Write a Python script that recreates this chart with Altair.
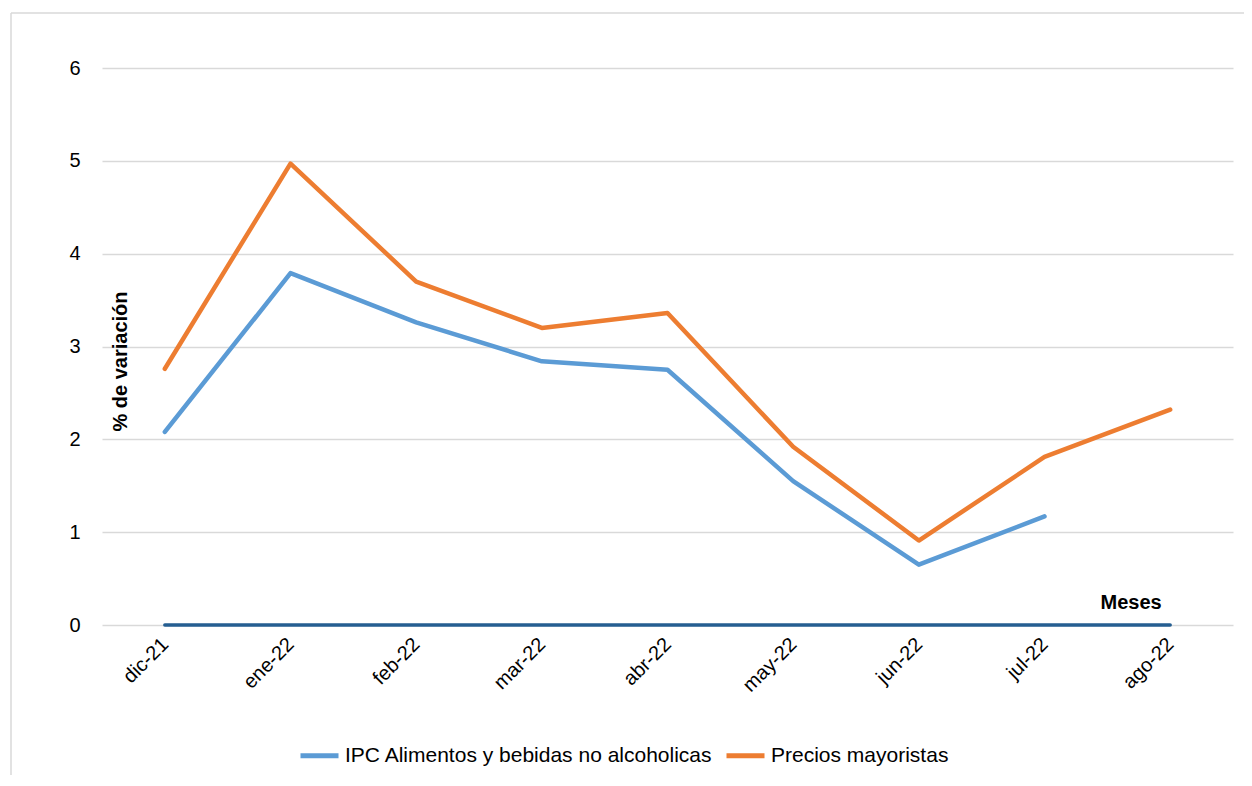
import altair as alt
import pandas as pd

months = ["dic-21", "ene-22", "feb-22", "mar-22", "abr-22", "may-22", "jun-22", "jul-22", "ago-22"]
ipc = [2.08, 3.79, 3.26, 2.84, 2.75, 1.55, 0.65, 1.17, None]
mayoristas = [2.76, 4.97, 3.70, 3.20, 3.36, 1.92, 0.91, 1.81, 2.32]
zero = [0, 0, 0, 0, 0, 0, 0, 0, 0]
series_names = ["IPC Alimentos y bebidas no alcoholicas", "Precios mayoristas"]
series_colors = ["#5B9BD5", "#ED7D31"]

FONT = "Liberation Sans, Arial"

rows = []
for m, v in zip(months, ipc):
    if v is not None:
        rows.append({"mes": m, "valor": v, "serie": series_names[0]})
for m, v in zip(months, mayoristas):
    if v is not None:
        rows.append({"mes": m, "valor": v, "serie": series_names[1]})
df = pd.DataFrame(rows)
df_zero = pd.DataFrame({"mes": months, "valor": zero})

x_enc = alt.X("mes:N", sort=months, scale=alt.Scale(domain=months, paddingOuter=0.5),
              axis=alt.Axis(title=None, labelAngle=-45, labelAlign="right", labelBaseline="middle",
                            labelPadding=16, labelFontSize=20, labelColor="#000000",
                            ticks=False, domain=False, grid=False, labelFont=FONT))
y_scale = alt.Scale(domain=[0, 6], nice=False)
y_axis = alt.Axis(title="%  de variación", titleFontWeight="bold", titleFontSize=20, titleFont=FONT,
                  titleColor="#000000", titleX=28, titleY=293, titleAngle=-90,
                  labelFontSize=20, labelColor="#000000", labelFont=FONT, labelPadding=22,
                  format="d",
                  ticks=False, domain=False, grid=True, gridColor="#D9D9D9", gridWidth=1.5,
                  values=[0, 1, 2, 3, 4, 5, 6])

zero_line = alt.Chart(df_zero).mark_line(color="#255E91", strokeWidth=3.5, strokeCap="round").encode(
    x=x_enc, y=alt.Y("valor:Q", scale=y_scale, axis=y_axis)
)

lines = alt.Chart(df).mark_line(strokeWidth=4.5, strokeCap="round", strokeJoin="round").encode(
    x=alt.X("mes:N", sort=months),
    y=alt.Y("valor:Q", scale=y_scale),
    color=alt.Color("serie:N", scale=alt.Scale(domain=series_names, range=series_colors),
                    legend=alt.Legend(title=None, orient="none", legendX=196, legendY=666,
                                      direction="horizontal", symbolType="stroke",
                                      symbolSize=1444, symbolStrokeWidth=5,
                                      labelFontSize=21, labelFont=FONT, labelColor="#000000",
                                      labelLimit=0, columnPadding=3, labelOffset=4, padding=0)),
)

meses = alt.Chart(pd.DataFrame({"t": ["Meses"]})).mark_text(
    text="Meses", fontWeight="bold", fontSize=20, font=FONT, color="#000000", dx=-39, dy=-22
).encode(x=alt.datum("ago-22"), y=alt.datum(0))

border_left = alt.Chart(pd.DataFrame({"a": [0]})).mark_rule(color="#D9D9D9", strokeWidth=1.5).encode(
    x=alt.value(-91), y=alt.value(-55), y2=alt.value(720)
)
border_top = alt.Chart(pd.DataFrame({"a": [0]})).mark_rule(color="#D9D9D9", strokeWidth=1.5).encode(
    x=alt.value(-91), x2=alt.value(1150), y=alt.value(-55)
)

chart = alt.layer(border_left, border_top, zero_line, lines, meses).properties(
    width=1131, height=557,
    background="#FFFFFF",
    autosize=alt.AutoSizeParams(type="none"),
    padding={"left": 94, "top": 60, "right": 11, "bottom": 150},
).configure_view(stroke=None, strokeWidth=0)

chart.save("out.html", embed_options={"renderer": "svg", "actions": False})
